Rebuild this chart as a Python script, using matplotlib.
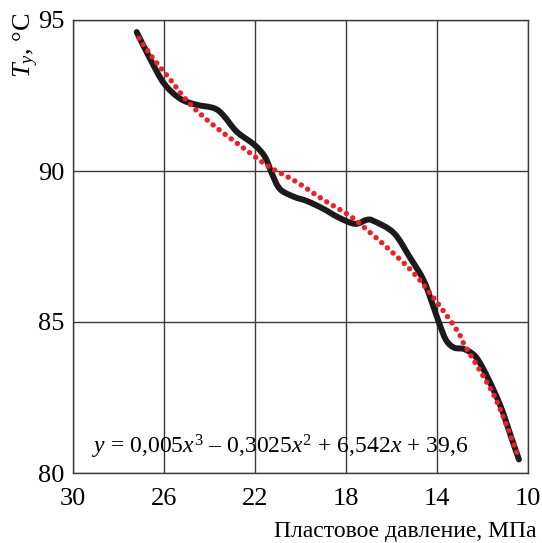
import matplotlib
matplotlib.use("Agg")
import matplotlib.pyplot as plt
import numpy as np
from matplotlib.path import Path
from matplotlib.patches import PathPatch

plt.rcParams["font.family"] = ["Liberation Serif", "DejaVu Serif"]
plt.rcParams["mathtext.fontset"] = "custom"
plt.rcParams["mathtext.rm"] = "Liberation Serif"
plt.rcParams["mathtext.it"] = "Liberation Serif:italic"

# measured curve (pressure, MPa -> temperature, C)
pressure = [27.2, 26.6, 26.0, 25.3, 24.6, 23.8, 23.4, 22.8, 22.0, 21.55,
            21.25, 20.9, 20.3, 19.7, 19.0, 18.3, 17.6, 17.1, 16.8, 15.9,
            15.2, 14.6, 14.2, 13.9, 13.6, 13.25, 12.8, 12.3, 11.8, 11.2,
            10.7, 10.4]
temperature = [94.6, 93.7, 92.9, 92.4, 92.2, 92.08, 91.85, 91.3, 90.85, 90.45,
               89.9, 89.4, 89.15, 89.0, 88.75, 88.45, 88.25, 88.38, 88.35, 87.95,
               87.15, 86.4, 85.6, 84.95, 84.4, 84.15, 84.1, 83.85, 83.2, 82.2,
               81.1, 80.45]

# trend line
trend_p = [27.1, 26.5, 25.8, 24.9, 23.8, 22.4, 21.4, 20.2, 19.0, 17.8,
           17.0, 16.1, 15.0, 13.9, 13.1, 12.8, 12.2, 11.45, 10.8, 10.4]
trend_t = [94.4, 93.75, 93.1, 92.25, 91.5, 90.7, 90.15, 89.65, 89.05, 88.5,
           88.0, 87.4, 86.6, 85.55, 84.7, 84.25, 83.5, 82.5, 81.3, 80.5]

xticks = [30, 26, 22, 18, 14, 10]
yticks = [80, 85, 90, 95]
equation = r"$y$ = 0,005$x^3$ – 0,3025$x^2$ + 6,542$x$ + 39,6"


def smooth_path(xs, ys):
    # Catmull-Rom through the points, drawn as cubic Bezier segments
    p = np.column_stack([xs, ys]).astype(float)
    p = np.vstack([p[0], p, p[-1]])
    verts = [p[1]]
    codes = [Path.MOVETO]
    for i in range(1, len(p) - 2):
        c1 = p[i] + (p[i + 1] - p[i - 1]) / 6
        c2 = p[i + 1] - (p[i + 2] - p[i]) / 6
        verts += [c1, c2, p[i + 1]]
        codes += [Path.CURVE4] * 3
    return Path(verts, codes)


W, H = 542, 543
fig = plt.figure(figsize=(W / 100, H / 100), dpi=100)
ax = fig.add_axes([73 / W, 1 - 473 / H, (528 - 73) / W, (473 - 20) / H])

ax.add_patch(PathPatch(smooth_path(pressure, temperature), fill=False,
                       edgecolor="#1c1a1a", lw=4.3, joinstyle="round",
                       capstyle="round", zorder=3))
ax.add_patch(PathPatch(smooth_path(trend_p, trend_t), fill=False,
                       edgecolor="#e8212a", lw=3.9,
                       linestyle=(0, (0.01, 1.4)), capstyle="round",
                       zorder=4))

ax.set_xlim(30, 10)
ax.set_ylim(80, 95)
ax.set_xticks(xticks)
ax.set_yticks(yticks)
ax.grid(True, color="#3a3a3a", lw=1.0)
ax.set_axisbelow(True)
ax.tick_params(length=0, labelsize=19, pad=6)
ax.tick_params(axis="x", pad=11)
for s in ax.spines.values():
    s.set_color("#3a3a3a")
    s.set_linewidth(1.0)

ax.text(0.042, 0.058, equation, transform=ax.transAxes, fontsize=17,
        ha="left", va="center")
fig.text(26 / W, 1 - 45 / H, r"$T_y$, °C", rotation=90, fontsize=19,
         ha="center", va="center")
fig.text(537 / W, 1 - 531 / H, "Пластовое давление, МПа", fontsize=17,
         ha="right", va="center")

fig.savefig("out.png", dpi=100)
